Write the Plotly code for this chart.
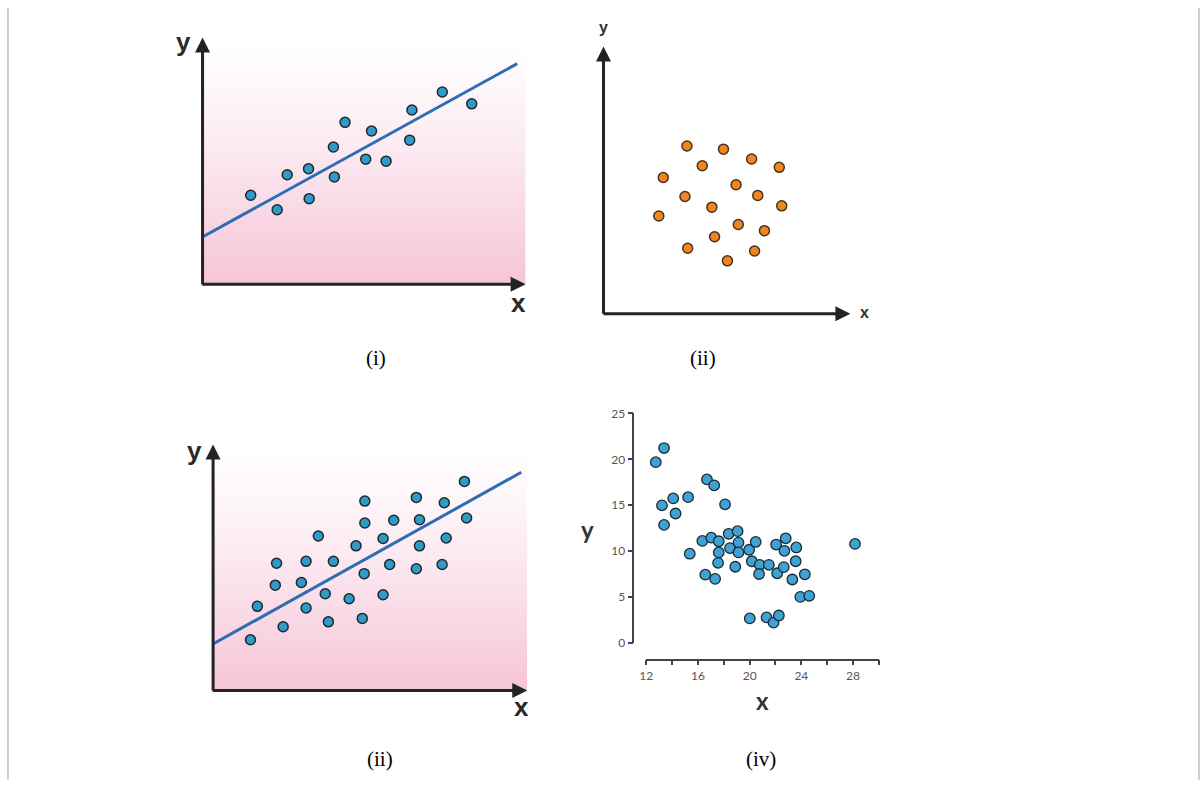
import plotly.graph_objects as go

# panel (i): strong positive trend (arbitrary 0-100 units)
p1_x = [14.9, 23.1, 26.2, 32.8, 33.0, 40.5, 40.8, 44.1, 50.5, 52.3, 56.8, 64.1, 64.8, 74.2, 83.3]
p1_y = [36.1, 30.2, 44.4, 46.8, 34.7, 55.6, 43.5, 65.6, 50.7, 62.1, 49.9, 58.4, 70.6, 77.9, 73.1]
p1_line_x = [0, 97.4]
p1_line_y = [19.2, 89.4]

# panel (ii): no correlation
p2_x = [33.8, 48.6, 60.0, 71.2, 40.0, 24.2, 53.7, 62.5, 33.0, 43.9, 72.2, 22.4, 54.6, 65.2, 45.0, 34.1, 61.2, 50.2]
p2_y = [62.8, 61.6, 57.9, 54.8, 55.4, 51.0, 48.3, 44.3, 43.9, 39.9, 40.4, 36.6, 33.4, 31.1, 28.8, 24.5, 23.5, 19.8]

# panel (iii): weaker positive trend
p3_x = [11.9, 14.1, 22.3, 19.8, 20.2, 28.1, 29.6, 29.6, 33.5, 35.7, 36.7, 38.3, 43.3, 45.5, 47.5, 48.1,
        48.3, 48.3, 54.1, 54.1, 56.2, 57.5, 64.7, 65.7, 65.7, 64.7, 72.9, 74.2, 73.6, 80.0, 80.7]
p3_y = [20.6, 34.2, 25.9, 42.8, 51.7, 43.9, 33.5, 52.5, 62.8, 39.3, 27.9, 52.5, 37.3, 58.8, 29.3, 47.5,
        68.1, 77.0, 38.9, 61.8, 51.2, 69.2, 49.5, 58.8, 69.4, 78.5, 51.2, 62.0, 76.3, 85.0, 70.1]
p3_line_x = [0, 98.1]
p3_line_y = [18.9, 88.7]

# panel (iv): negative correlation
p4_x = [12.74, 13.38, 13.22, 13.38, 14.09, 14.27, 15.24, 15.37, 16.34, 16.70, 16.57, 17.03, 17.26, 17.33,
        17.61, 17.61, 17.56, 18.10, 18.38, 18.48, 19.07, 19.14, 19.14, 18.89, 19.96, 20.47, 20.17, 20.78,
        20.73, 20.01, 21.49, 21.31, 21.85, 22.26, 22.05, 22.13, 22.79, 22.69, 22.64, 23.30, 23.61, 23.56,
        23.92, 24.27, 24.61, 28.15]
p4_y = [19.69, 21.23, 14.99, 12.86, 15.74, 14.10, 15.88, 9.72, 11.11, 17.81, 7.44, 11.47, 17.17, 6.98,
        11.08, 9.86, 8.73, 15.10, 11.89, 10.33, 12.18, 10.93, 9.86, 8.30, 10.15, 11.00, 8.90, 8.51,
        7.51, 2.67, 8.51, 2.78, 2.21, 2.99, 10.72, 7.59, 11.40, 10.04, 8.26, 6.91, 10.40, 8.90,
        5.02, 7.48, 5.13, 10.79]
p4_yticks = [0, 5, 10, 15, 20, 25]
p4_xticks = [12, 16, 20, 24, 28]

panel_labels = ['(i)', '(ii)', '(ii)', '(iv)']

W, H = 1200, 787
BLUE = '#2f9bc6'
DARK = '#1f2a30'
AXIS = '#232323'
pink_scale = [[0, '#f6c3d7'], [0.35, '#f9dbe7'], [0.7, '#fdf1f6'], [1, '#ffffff']]


def px(v):
    return v / W


def py(v):
    return 1 - v / H


fig = go.Figure()

# --- panel (i)
fig.add_trace(go.Scatter(x=[0, 100, 100, 0, 0], y=[0, 0, 97, 97, 0], fill='toself', mode='none',
                         fillgradient=dict(type='vertical', colorscale=pink_scale, start=0, stop=97),
                         xaxis='x', yaxis='y', hoverinfo='skip'))
fig.add_trace(go.Scatter(x=p1_line_x, y=p1_line_y, mode='lines', line=dict(color='#2d6db3', width=3),
                         xaxis='x', yaxis='y'))
fig.add_trace(go.Scatter(x=p1_x, y=p1_y, mode='markers', xaxis='x', yaxis='y',
                         marker=dict(size=10, color=BLUE, line=dict(color=DARK, width=1.5))))

# --- panel (ii)
fig.add_trace(go.Scatter(x=p2_x, y=p2_y, mode='markers', xaxis='x2', yaxis='y2',
                         marker=dict(size=10, color='#f0871e', line=dict(color='#4a3320', width=1.5))))

# --- panel (iii)
fig.add_trace(go.Scatter(x=[0, 100, 100, 0, 0], y=[0, 0, 97, 97, 0], fill='toself', mode='none',
                         fillgradient=dict(type='vertical', colorscale=pink_scale, start=0, stop=97),
                         xaxis='x3', yaxis='y3', hoverinfo='skip'))
fig.add_trace(go.Scatter(x=p3_line_x, y=p3_line_y, mode='lines', line=dict(color='#2d6db3', width=3),
                         xaxis='x3', yaxis='y3'))
fig.add_trace(go.Scatter(x=p3_x, y=p3_y, mode='markers', xaxis='x3', yaxis='y3',
                         marker=dict(size=10, color=BLUE, line=dict(color=DARK, width=1.5))))

# --- panel (iv)
fig.add_trace(go.Scatter(x=p4_x, y=p4_y, mode='markers', xaxis='x4', yaxis='y4', cliponaxis=False,
                         marker=dict(size=10.5, color='#3fa2d4', line=dict(color='#1c2a33', width=1.3))))

hidden = dict(visible=False, range=[0, 100], fixedrange=True)
fig.update_layout(
    width=W, height=H, showlegend=False,
    margin=dict(l=0, r=0, t=0, b=0),
    paper_bgcolor='white', plot_bgcolor='rgba(0,0,0,0)',
    xaxis=dict(hidden, domain=[px(196.7), px(521.7)], anchor='y'),
    yaxis=dict(hidden, domain=[py(281.7), py(30)], anchor='x'),
    xaxis2=dict(hidden, domain=[px(600), px(848.3)], anchor='y2'),
    yaxis2=dict(hidden, domain=[py(311.7), py(39.3)], anchor='x2'),
    xaxis3=dict(hidden, domain=[px(207.3), px(523.3)], anchor='y3'),
    yaxis3=dict(hidden, domain=[py(695.7), py(445)], anchor='x3'),
    xaxis4=dict(domain=[px(642.7), px(877.3)], range=[11.98, 30.02], anchor='free', position=py(664.3),
                showgrid=False, zeroline=False, showline=True, linecolor='#444', linewidth=1.5,
                tickvals=p4_xticks, ticks='outside', ticklen=5, tickcolor='#444', tickwidth=1.5,
                minor=dict(dtick=2, tick0=12, ticks='outside', ticklen=5, tickcolor='#444', tickwidth=1.5),
                tickfont=dict(family='Lato', size=12, color='#555')),
    yaxis4=dict(domain=[py(647.3), py(413.3)], range=[0, 25], anchor='free', position=px(630),
                showgrid=False, zeroline=False, showline=True, linecolor='#444', linewidth=1.5,
                tickvals=p4_yticks, ticks='outside', ticklen=5, tickcolor='#444', tickwidth=1.5,
                tickfont=dict(family='Lato', size=12, color='#555')),
)

# arrow axes for the sketch panels
for xa, ya in [('x', 'y'), ('x2', 'y2'), ('x3', 'y3')]:
    fig.add_annotation(x=0, y=100, ax=0, ay=-0.6, xref=xa, yref=ya, axref=xa, ayref=ya, text='',
                       showarrow=True, arrowhead=2, arrowsize=1, arrowwidth=3, arrowcolor=AXIS)
    fig.add_annotation(x=100, y=0, ax=-0.6, ay=0, xref=xa, yref=ya, axref=xa, ayref=ya, text='',
                       showarrow=True, arrowhead=2, arrowsize=1, arrowwidth=3, arrowcolor=AXIS)

big = dict(family='Liberation Sans', size=26, color='#2a2a2a')
small = dict(family='Liberation Sans', size=16, color='#333')
axis_titles = [
    (178, 35, 'y', big), (515, 301, 'x', big),
    (600, 20, 'y', small), (863, 310, 'x', small),
    (189, 452, 'y', big), (518, 713, 'x', big),
    (584, 532, 'y', dict(family='Lato', size=24, color='#333')),
    (760, 706, 'x', dict(family='Lato', size=24, color='#333')),
]
for x0, y0, t, f in axis_titles:
    fig.add_annotation(x=px(x0), y=py(y0), xref='paper', yref='paper', text='<b>%s</b>' % t,
                       showarrow=False, font=f, xanchor='center', yanchor='middle')

for (x0, y0), lab in zip([(371, 357), (700, 357), (375, 766), (758, 766)], panel_labels):
    fig.add_annotation(x=px(x0), y=py(y0), xref='paper', yref='paper', text=lab, showarrow=False,
                       font=dict(family='Liberation Serif', size=21, color='black'),
                       xanchor='center', yanchor='middle')

# thin grey frame edges of the page
fig.add_shape(type='line', xref='paper', yref='paper', x0=0.0008, x1=0.0008, y0=0, y1=1,
              line=dict(color='#cfcfcf', width=2))
fig.add_shape(type='line', xref='paper', yref='paper', x0=0.9992, x1=0.9992, y0=0, y1=1,
              line=dict(color='#cfcfcf', width=2))

# the page's default 8px body margin would push the 1200x787 figure off the window
fig.write_html("out.html", config={'displayModeBar': False},
               post_script="document.body.style.margin='0';")
